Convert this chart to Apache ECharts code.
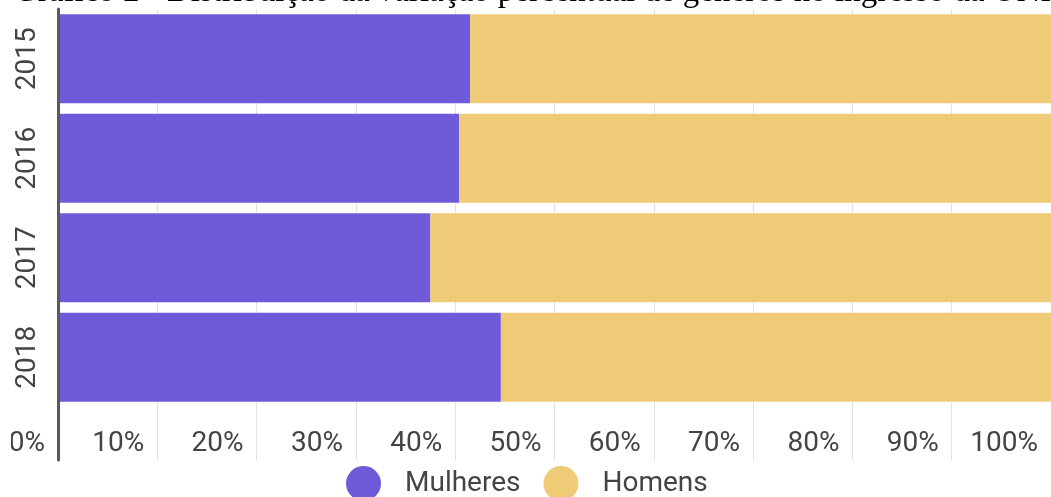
<!DOCTYPE html>
<html>
<head>
<meta charset="utf-8">
<script src="https://cdn.jsdelivr.net/npm/echarts@6/dist/echarts.min.js"></script>
<style>html,body{margin:0;padding:0;background:#fff;}#c{width:1051px;height:497px;}</style>
</head>
<body>
<div id="c"></div>
<script>
const titleText = 'Gráfico 2 - Distribuição da variação percentual de gêneros no ingresso da UNILA';
const categories = ['2015', '2016', '2017', '2018'];
const seriesNames = ['Mulheres', 'Homens'];
const mulheres = [41.5, 40.4, 37.5, 44.6];
const homens = [58.5, 59.6, 62.5, 55.4];
const xTicks = [0, 10, 20, 30, 40, 50, 60, 70, 80, 90, 100];

const purple = '#6f5bd9';
const yellow = '#efcb78';
const labelColor = '#444';
const gridColor = '#e2e2e2';
const axisColor = '#5a5a5a';

const chart = echarts.init(document.getElementById('c'), null, {renderer: 'canvas'});
chart.setOption({
  animation: false,
  backgroundColor: '#fff',
  title: {
    text: titleText,
    left: 14,
    top: -24,
    padding: 0,
    textStyle: {fontFamily: 'Liberation Serif', fontSize: 33, fontWeight: 'normal', color: '#000'}
  },
  legend: {
    data: seriesNames,
    left: 346,
    top: 466,
    padding: 0,
    icon: 'circle',
    itemWidth: 35,
    itemHeight: 35,
    itemGap: 23,
    textStyle: {fontFamily: 'Roboto', fontSize: 28, color: labelColor, padding: [0, 0, 0, 19]}
  },
  graphic: [
    {type: 'rect', left: 0, top: 415, shape: {width: 11, height: 50}, style: {fill: '#fff'}, z: 100}
  ],
  grid: [
    {left: 58, right: -2, top: 9, height: 398, containLabel: false},
    {left: 58, right: -2, top: 407, height: 53, containLabel: false}
  ],
  xAxis: [
    {
      gridIndex: 0, type: 'value', min: 0, max: 100, interval: 10,
      axisLine: {show: false}, axisTick: {show: false},
      splitLine: {show: true, lineStyle: {color: gridColor, width: 1}},
      axisLabel: {
        show: true, margin: 23, align: 'right', padding: [0, 13, 0, 0],
        showMinLabel: true, showMaxLabel: true,
        fontFamily: 'Roboto', fontSize: 28, color: labelColor,
        formatter: function (v) { return xTicks.indexOf(v) >= 0 ? v + '%' : ''; }
      }
    },
    {
      gridIndex: 1, type: 'value', min: 0, max: 100, interval: 10,
      axisLine: {show: false}, axisTick: {show: false}, axisLabel: {show: false},
      splitLine: {show: true, lineStyle: {color: gridColor, width: 1}}
    }
  ],
  yAxis: [
    {
      gridIndex: 0, type: 'category', data: categories, inverse: true, z: 10,
      axisLine: {show: true, lineStyle: {color: axisColor, width: 3}},
      axisTick: {show: false},
      splitLine: {show: false},
      axisLabel: {rotate: 90, margin: 16, fontFamily: 'Roboto', fontSize: 28, color: labelColor}
    },
    {
      gridIndex: 1, type: 'category', data: [''], z: 10,
      axisLine: {show: true, lineStyle: {color: axisColor, width: 3}},
      axisTick: {show: false}, axisLabel: {show: false}, splitLine: {show: false}
    }
  ],
  series: [
    {name: seriesNames[0], type: 'bar', stack: 'total', xAxisIndex: 0, yAxisIndex: 0,
     data: mulheres, barCategoryGap: '10.5%', itemStyle: {color: purple}},
    {name: seriesNames[1], type: 'bar', stack: 'total', xAxisIndex: 0, yAxisIndex: 0,
     data: homens, barCategoryGap: '10.5%', itemStyle: {color: yellow}}
  ]
});
</script>
</body>
</html>
